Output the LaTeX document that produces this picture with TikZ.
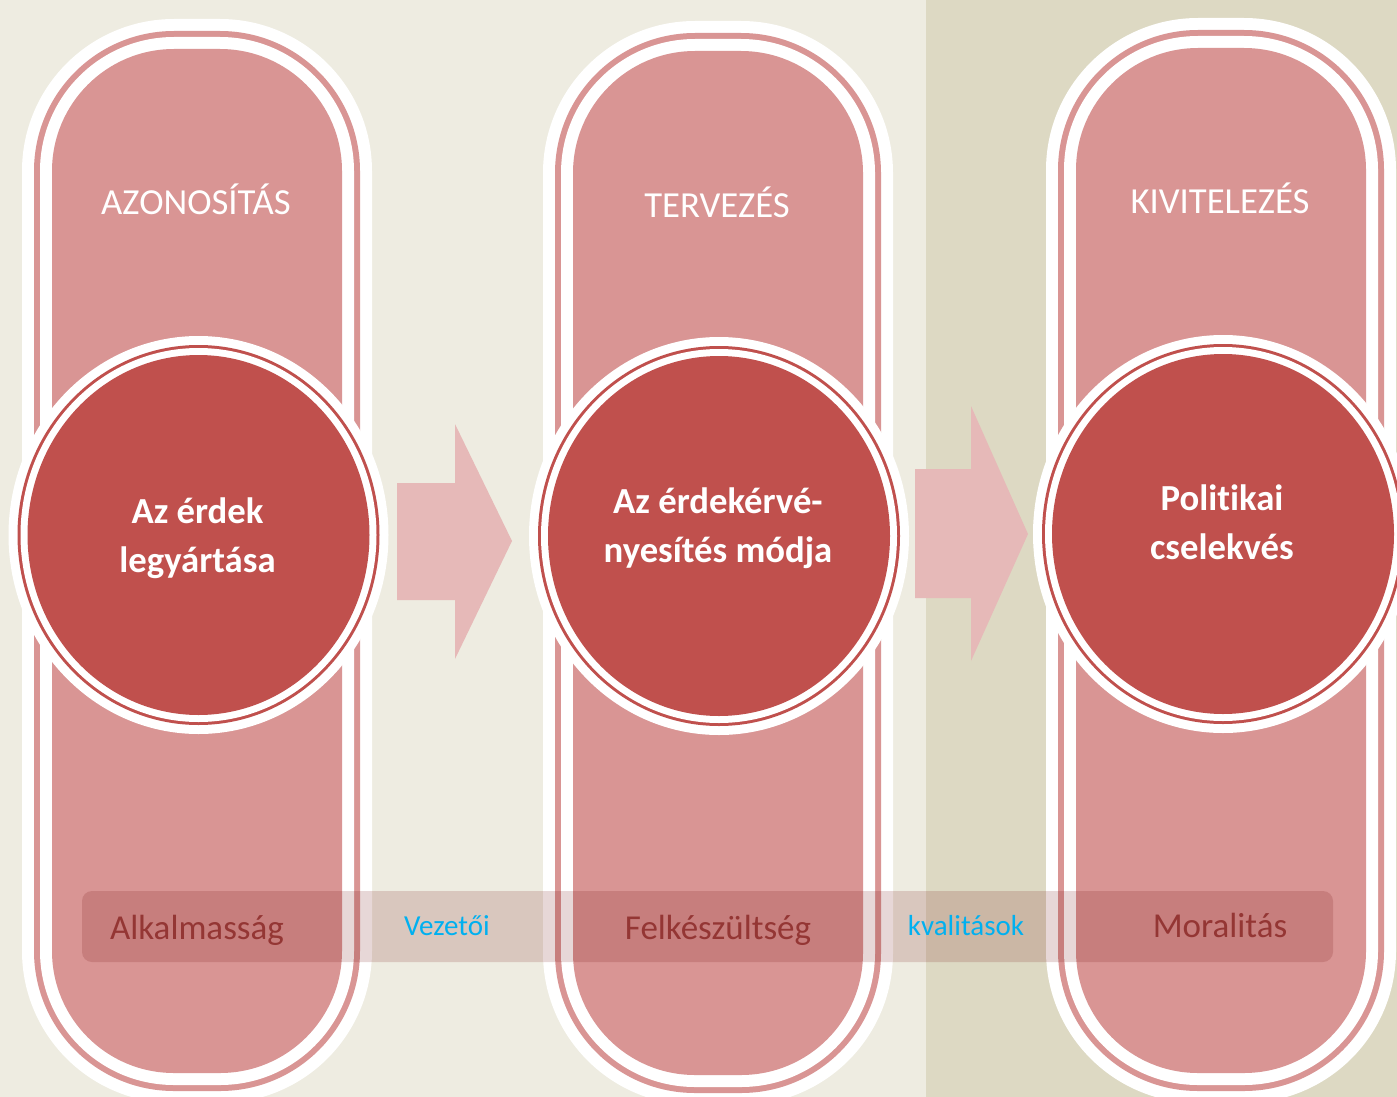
\documentclass[tikz,border=0pt]{standalone}
\usepackage{fontspec}
\newfontfamily\calib[Ligatures=NoCommon]{Carlito}
\definecolor{bgA}{HTML}{EEECE1}
\definecolor{bgB}{HTML}{DDD9C3}
\definecolor{pinkF}{HTML}{D99594}
\definecolor{redC}{HTML}{C0504D}
\definecolor{arrowC}{HTML}{E6B9B8}
\definecolor{bandC}{RGB}{110,10,10}
\definecolor{darkT}{HTML}{943634}
\definecolor{blueT}{HTML}{00B0F0}
\newcommand\pillshape[3]{%
  \fill[white, rounded corners=152pt] (#1-175,#2-30) rectangle (#1+175,#3+30);
  \fill[pinkF, rounded corners=140pt] (#1-163,#2-18) rectangle (#1+163,#3+18);
  \fill[white, rounded corners=134pt] (#1-157,#2-12) rectangle (#1+157,#3+12);
  \fill[pinkF, rounded corners=122pt] (#1-145,#2) rectangle (#1+145,#3);
}
\newcommand\ringdisc[2]{%
  \fill[white] (#1,#2) ellipse [x radius=190, y radius=199];
  \fill[redC]  (#1,#2) ellipse [x radius=181, y radius=190];
  \fill[white] (#1,#2) ellipse [x radius=178, y radius=187];
  \fill[redC]  (#1,#2) ellipse [x radius=171, y radius=180];
}
\tikzset{
  titletext/.style={text=white, font=\calib\fontsize{36.7}{44}\selectfont, inner sep=0pt, anchor=base},
  disctext/.style={text=white, font=\calib\bfseries\fontsize{36.7}{49}\selectfont, inner sep=0pt, anchor=base},
  bandtext/.style={text=darkT, font=\calib\fontsize{35}{42}\selectfont, inner sep=0pt, anchor=base},
  bluetext/.style={text=blueT, font=\calib\fontsize{29}{35}\selectfont, inner sep=0pt, anchor=base},
  blockarrow/.style={fill=arrowC},
}
\begin{document}
\begin{tikzpicture}[x=1pt,y=-1pt]
\useasboundingbox (0,0) rectangle (1397,1097);
\clip (0,0) rectangle (1397,1097);
% background
\fill[bgA] (0,0) rectangle (926,1097);
\fill[bgB] (926,0) rectangle (1397,1097);
% pills
\pillshape{197}{49}{1073}
\pillshape{718}{51}{1075}
\pillshape{1221}{48}{1073}
% arrows
\fill[blockarrow] (397,483) -- (455,483) -- (455,424) -- (512,541) -- (455,659) -- (455,600) -- (397,600) -- cycle;
\fill[blockarrow] (915,469) -- (971,469) -- (971,406) -- (1028,534) -- (971,661) -- (971,598) -- (915,598) -- cycle;
% discs
\ringdisc{198.5}{535}
\ringdisc{719}{536}
\ringdisc{1223}{534}
% band
\fill[bandC, fill opacity=0.16, rounded corners=10pt] (82,891) rectangle (1333,962);
% titles
\node[titletext] (t1) at (196,214) {AZONOSÍTÁS};
\node[titletext] (t2) at (717,217) {TERVEZÉS};
\node[titletext] (t3) at (1220,213) {KIVITELEZÉS};
% disc texts
\node[disctext] (d1) at (197.5,523) {\begin{tabular}[t]{@{}c@{}}Az érdek\\legyártása\end{tabular}};
\node[disctext] (d2) at (718,513) {\begin{tabular}[t]{@{}c@{}}Az érdekérvé-\\nyesítés módja\end{tabular}};
\node[disctext] (d3) at (1222,510) {\begin{tabular}[t]{@{}c@{}}Politikai\\cselekvés\end{tabular}};
% band texts
\node[bandtext] (b1) at (197,939) {Alkalmasság};
\node[bluetext] (b2) at (447,935) {Vezetői};
\node[bandtext] (b3) at (718,939) {Felkészültség};
\node[bluetext] (b4) at (966,935) {kvalitások};
\node[bandtext] (b5) at (1220,937) {Moralitás};
\end{tikzpicture}
\end{document}
